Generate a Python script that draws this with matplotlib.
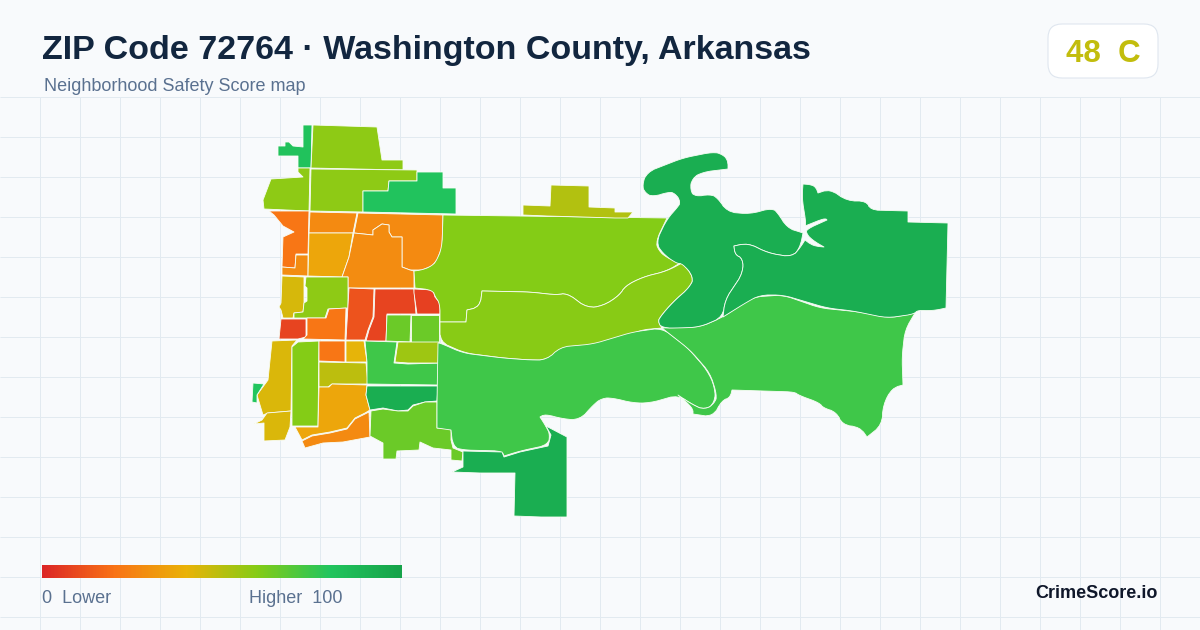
import matplotlib
matplotlib.use("Agg")
import matplotlib.pyplot as plt
import numpy as np
from matplotlib.colors import LinearSegmentedColormap
from matplotlib.patches import Polygon, FancyBboxPatch

plt.rcParams['font.family'] = ['Liberation Sans', 'DejaVu Sans']

TITLE = "ZIP Code 72764 · Washington County, Arkansas"
SUBTITLE = "Neighborhood Safety Score map"
BADGE = "48  C"
BADGE_SCORE = 48
BRAND = "CrimeScore.io"
LEGEND_LOW = "0  Lower"
LEGEND_HIGH = "Higher  100"

cmap_stops = [(0.0, "#dc2626"), (0.2, "#f97316"), (0.4, "#eab308"),
              (0.6, "#84cc16"), (0.8, "#22c55e"), (1.0, "#16a34a")]

# neighbourhood outlines, in map coordinates, with their scores
nw_sliver = [(303,125),(312,125),(311,168),(298,168),(298,156),(278,156),(278,146),(285,146),(285,142),(289,142),(293,146),(303,147)]
n_top = [(313,125),(377,127),(382,160),(403,160),(403,170),(311,168)]
n_left = [(298,168),(310,168),(309,211),(264,209),(263,200),(271,179),(303,177),(298,172)]
n_mid = [(311,169),(417,170),(417,181),(389,181),(388,191),(363,191),(363,212),(310,211)]
n_green = [(417,172),(443,172),(443,188),(456,188),(456,214),(363,212),(363,191),(388,191),(389,181),(417,181)]
w_orange = [(269,211),(309,211),(308,254),(296,254),(295,268),(282,267),(283,237),(294,232),(283,226),(274,215)]
w_orange2 = [(296,255),(308,255),(308,276),(282,275),(282,267),(295,268)]
c_top = [(310,212),(357,213),(353,233),(309,233)]
c_amber = [(309,233),(353,233),(349,257),(342,277),(308,276)]
ne_orange = [(358,213),(443,215),(442,247),(437,260),(432,266),(422,270),(410,270),(402,267),(402,237),(392,237),(389,232),(389,225),(382,224),(373,230),(373,235),(354,233)]
c_orange = [(354,233),(373,235),(373,230),(382,224),(389,225),(389,232),(392,237),(402,237),(402,267),(410,270),(414,271),(414,288),(348,288),(348,277),(342,277),(349,257)]
w_yellow = [(282,276),(304,277),(304,303),(303,312),(294,313),(293,318),(283,318),(281,310),(279,307),(281,303)]
w_lime = [(306,277),(348,277),(348,308),(328,309),(325,318),(294,318),(294,313),(303,312),(304,303),(307,301),(307,288),(305,286)]
w_red = [(281,319),(306,319),(306,337),(298,339),(279,339)]
c_orange2 = [(307,318),(326,318),(329,309),(346,308),(345,340),(303,339),(307,335)]
c_red1 = [(349,288),(374,289),(373,317),(368,330),(365,340),(346,340)]
c_red2 = [(375,289),(414,289),(416,314),(387,314),(386,341),(366,341),(369,330),(374,317)]
c_red3 = [(414,289),(433,290),(435,297),(440,303),(440,314),(417,314),(414,293)]
c_lime1 = [(387,315),(411,315),(410,342),(386,341)]
c_lime2 = [(411,315),(439,315),(439,342),(411,342)]
sw_yellow = [(272,341),(297,340),(292,346),(291,411),(268,413),(263,415),(257,395),(268,380)]
sw_yellow2 = [(254,424),(262,420),(267,413),(291,411),(290,427),(285,440),(264,441),(264,423)]
sw_green = [(253,383),(264,384),(257,395),(257,403),(252,402)]
sw_lime = [(298,342),(319,341),(318,426),(292,426),(292,347)]
s_orange = [(319,341),(345,341),(345,362),(319,361)]
s_yellow = [(346,341),(364,341),(367,362),(346,362)]
s_olive = [(319,362),(366,363),(368,384),(332,384),(328,387),(319,387)]
s_amber = [(319,387),(329,387),(332,384),(367,385),(366,395),(370,410),(365,413),(355,418),(347,428),(330,432),(312,435),(302,440),(295,427),(318,427)]
s_orange2 = [(302,441),(312,436),(330,433),(347,429),(355,419),(365,414),(369,412),(370,437),(343,442),(323,443),(305,448)]
s_green = [(365,341),(397,342),(394,363),(408,364),(439,363),(438,385),(367,384),(367,362)]
s_olive2 = [(398,342),(439,342),(439,363),(408,363),(395,362)]
s_dark = [(367,386),(438,386),(437,401),(425,402),(413,405),(408,410),(398,411),(383,408),(370,410),(366,395)]
s_lime = [(371,411),(383,409),(398,411),(408,411),(413,406),(425,402),(437,402),(437,428),(451,429),(451,440),(453,448),(463,452),(462,461),(451,460),(451,450),(433,448),(420,442),(419,450),(397,451),(396,459),(383,459),(383,443),(370,436)]
big_lime = [(443,215),(667,218),(656,241),(658,250),(667,258),(680,263),(667,271),(643,277),(625,286),(620,295),(603,306),(587,308),(567,293),(557,295),(530,292),(482,291),(480,307),(467,310),(466,322),(440,322),(440,303),(435,297),(433,290),(415,288),(414,271),(422,270),(432,266),(437,260),(442,247)]
lower_lime = [(482,291),(530,292),(557,295),(567,293),(587,308),(603,306),(620,295),(625,286),(643,277),(667,271),(682,263),(694,277),(690,287),(673,302),(660,317),(658,322),(662,328),(640,330),(627,337),(593,345),(562,347),(547,360),(530,360),(503,358),(465,353),(440,342),(440,322),(466,322),(467,310),(480,307)]
big_green_w = [(440,343),(463,353),(503,358),(530,360),(547,360),(560,347),(593,344),(633,332),(662,328),(687,347),(707,370),(715,387),(715,403),(705,410),(693,405),(678,395),(650,403),(633,403),(613,398),(602,398),(593,405),(580,420),(563,419),(545,414),(540,417),(547,428),(550,435),(548,445),(520,451),(504,456),(502,451),(463,450),(453,447),(451,430),(437,428),(437,402),(438,343)]
big_green_e = [(662,328),(700,327),(723,317),(753,297),(783,295),(820,308),(860,312),(890,318),(915,313),(905,330),(902,357),(903,385),(892,388),(883,405),(882,425),(867,437),(860,427),(842,425),(837,412),(823,408),(820,403),(798,395),(795,392),(732,390),(730,398),(722,400),(713,417),(693,414),(693,408),(678,395),(693,405),(705,410),(715,403),(717,395),(710,373),(690,350)]
south_dark = [(463,451),(502,452),(504,457),(520,452),(548,446),(551,435),(546,426),(567,437),(567,517),(541,517),(514,516),(515,473),(480,473),(452,472),(463,467)]
north_olive = [(523,205),(550,206),(551,185),(589,186),(589,207),(615,208),(615,212),(633,212),(628,218),(615,218),(583,217),(547,216),(523,215)]
lake_north = [(667,219),(677,208),(681,202),(675,193),(668,192),(653,197),(645,193),(642,185),(647,172),(683,158),(713,152),(722,154),(728,160),(728,169),(703,172),(692,178),(690,190),(695,197),(710,194),(718,198),(727,212),(750,214),(772,208),(778,213),(787,228),(800,232),(803,233),(800,248),(792,257),(768,253),(748,243),(734,246),(735,255),(743,258),(743,273),(725,300),(723,317),(700,327),(680,328),(662,328),(658,322),(660,317),(673,302),(690,287),(694,277),(682,263),(677,264),(662,253),(656,242)]
lake_east = [(803,184),(815,185),(818,193),(830,189),(847,201),(867,201),(870,210),(908,211),(908,222),(948,223),(946,308),(932,311),(917,310),(915,314),(887,318),(853,311),(827,308),(783,295),(760,295),(747,302),(723,317),(725,300),(743,273),(743,258),(735,255),(734,246),(748,243),(768,253),(792,257),(800,248),(805,240),(813,246),(824,247),(812,240),(806,233),(807,229),(827,220),(825,218),(805,226),(806,223),(802,198)]

regions = [
    (nw_sliver, 82), (n_top, 58), (n_left, 58), (n_mid, 58), (n_green, 81),
    (w_orange, 21), (w_orange2, 28), (c_top, 27), (c_amber, 36), (ne_orange, 27),
    (c_orange, 28), (w_yellow, 44), (w_lime, 58), (w_red, 8), (c_orange2, 21),
    (c_red1, 12), (c_red2, 8), (c_red3, 7), (c_lime1, 65), (c_lime2, 65),
    (sw_yellow, 43), (sw_yellow2, 43), (sw_green, 80), (sw_lime, 60),
    (s_orange, 21), (s_yellow, 41), (s_olive, 49), (s_amber, 36), (s_orange2, 27),
    (s_green, 74), (s_olive2, 55), (s_dark, 93), (s_lime, 65),
    (big_lime, 60), (lower_lime, 59), (big_green_w, 74), (big_green_e, 74),
    (south_dark, 93), (north_olive, 51), (lake_north, 93), (lake_east, 93),
]
# natural boundaries (rivers, shoreline) are drawn with rounded bends
organic = {id(o) for o in (big_lime, lower_lime, big_green_w, big_green_e, lake_north, lake_east)}


def round_bends(points, cut=5.0, max_turn=72, passes=2):
    """Chamfer shallow bends of an outline; right angles and sharper stay as they are."""
    pts = [np.array(p, float) for p in points]
    for _ in range(passes):
        out = []
        n = len(pts)
        for i in range(n):
            p, a, b = pts[i - 1], pts[i], pts[(i + 1) % n]
            u, v = p - a, b - a
            lu, lv = np.linalg.norm(u), np.linalg.norm(v)
            cosang = np.dot(u, v) / (lu * lv)
            turn = 180 - np.degrees(np.arccos(np.clip(cosang, -1, 1)))
            if turn < max_turn:
                out.append(a + u / lu * min(cut, lu * 0.3))
                out.append(a + v / lv * min(cut, lv * 0.3))
            else:
                out.append(a)
        pts = out
        cut *= 0.5
    return np.array(pts)


cmap = LinearSegmentedColormap.from_list("safety", cmap_stops)

fig = plt.figure(figsize=(12, 6.3), dpi=100, facecolor="#f8fafc")
ax = fig.add_axes([0, 0, 1, 1])
ax.set_facecolor("#f8fafc")
ax.axis("off")

# background grid below the header
grid_color = "#e2eaf0"
for x in range(40, 1201, 40):
    ax.plot([x, x], [97, 630], color=grid_color, lw=0.72, zorder=1, solid_capstyle="butt")
for y in range(97, 631, 40):
    ax.plot([0, 1200], [y, y], color=grid_color, lw=0.72, zorder=1, solid_capstyle="butt")

for outline, score in regions:
    shape = round_bends(outline) if id(outline) in organic else outline
    ax.add_patch(Polygon(shape, closed=True, facecolor=cmap(score / 100),
                         edgecolor="#f8fdf5", linewidth=0.6, joinstyle="round", zorder=3))

# header
ax.text(42, 59, TITLE, fontsize=24.5, fontweight="bold", color="#12263f", va="baseline", ha="left", zorder=5)
ax.text(44, 91, SUBTITLE, fontsize=12.95, color="#5a7190", va="baseline", ha="left", zorder=5)

# score badge
ax.add_patch(FancyBboxPatch((1062, 38), 82, 26, boxstyle="round,pad=14,rounding_size=14",
                            facecolor="#ffffff", edgecolor="#dfe6ef", linewidth=0.8, zorder=4))
ax.text(1103, 62, BADGE, fontsize=22.5, fontweight="bold", color=cmap(BADGE_SCORE / 100),
        va="baseline", ha="center", zorder=5)

# colour scale
gradient = np.linspace(0, 1, 360).reshape(1, -1)
ax.imshow(gradient, cmap=cmap, extent=(42, 402, 578, 565), aspect="auto", zorder=4)
ax.text(42, 603, LEGEND_LOW, fontsize=12.95, color="#5a7190", va="baseline", ha="left", zorder=5)
ax.text(249, 603, LEGEND_HIGH, fontsize=12.95, color="#5a7190", va="baseline", ha="left", zorder=5)

ax.text(1158, 598, BRAND, fontsize=12.95, fontweight="bold", color="#0f172a", va="baseline", ha="right", zorder=5)

ax.set_xlim(0, 1200)
ax.set_ylim(630, 0)
fig.savefig("out.png", dpi=100, facecolor=fig.get_facecolor())
